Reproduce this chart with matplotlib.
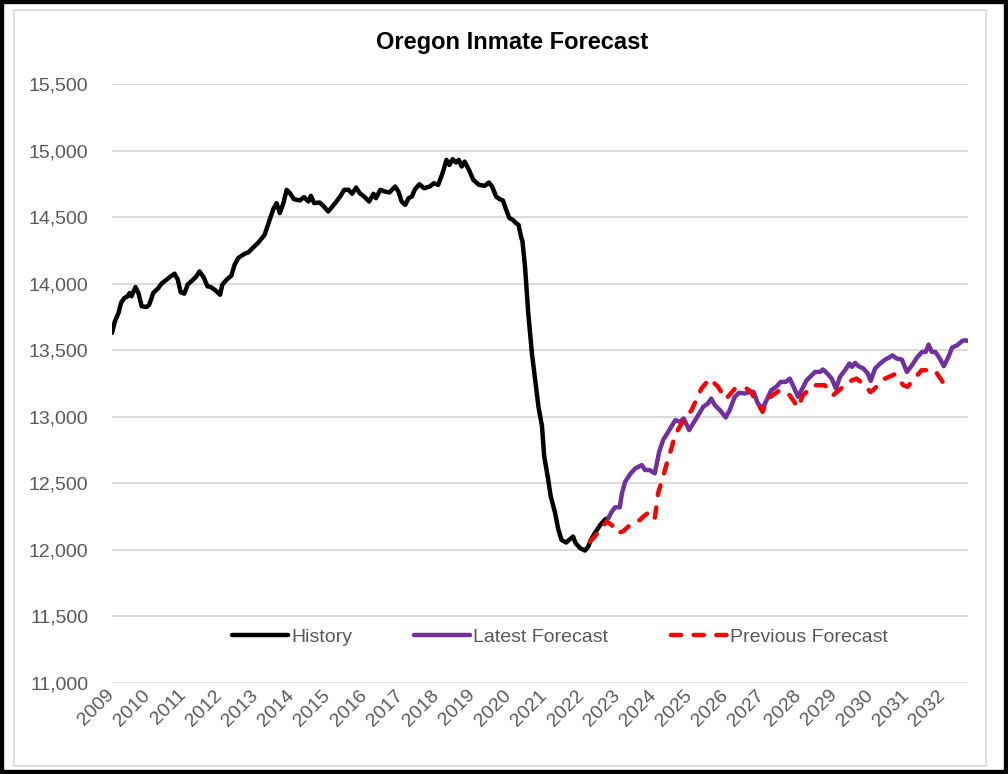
import matplotlib
matplotlib.use('Agg')
import matplotlib.pyplot as plt
import matplotlib.transforms as mtransforms
from matplotlib.patches import Rectangle

plt.rcParams['font.family'] = ['Liberation Sans Narrow', 'Liberation Sans', 'DejaVu Sans']

# History (decimal year, inmates)
hist_t = [2009.00, 2009.08, 2009.18, 2009.25, 2009.34, 2009.43, 2009.49, 2009.54, 2009.65, 2009.73,
          2009.82, 2009.96, 2010.03, 2010.14, 2010.28, 2010.37, 2010.51, 2010.60, 2010.73, 2010.82,
          2010.90, 2011.00, 2011.09, 2011.22, 2011.32, 2011.42, 2011.53, 2011.64, 2011.73, 2011.86,
          2011.99, 2012.05, 2012.17, 2012.30, 2012.39, 2012.49, 2012.58, 2012.67, 2012.77, 2012.86,
          2013.05, 2013.22, 2013.33, 2013.46, 2013.55, 2013.64, 2013.74, 2013.83, 2013.92, 2014.03,
          2014.19, 2014.31, 2014.43, 2014.50, 2014.59, 2014.74, 2014.84, 2014.98, 2015.17, 2015.31,
          2015.42, 2015.54, 2015.64, 2015.75, 2015.85, 2015.99, 2016.11, 2016.23, 2016.30, 2016.42,
          2016.55, 2016.67, 2016.83, 2016.92, 2017.01, 2017.11, 2017.20, 2017.29, 2017.38, 2017.50,
          2017.63, 2017.79, 2017.90, 2018.02, 2018.14, 2018.25, 2018.33, 2018.42, 2018.51, 2018.59,
          2018.67, 2018.75, 2018.87, 2018.99, 2019.15, 2019.31, 2019.42, 2019.51, 2019.62, 2019.72,
          2019.81, 2019.90, 2019.99, 2020.08, 2020.17, 2020.24, 2020.31, 2020.35, 2020.42, 2020.51,
          2020.61, 2020.70, 2020.79, 2020.89, 2020.95, 2021.06, 2021.13, 2021.25, 2021.34, 2021.43,
          2021.56, 2021.66, 2021.75, 2021.82, 2021.95, 2022.08, 2022.17, 2022.24, 2022.35, 2022.50,
          2022.64, 2022.72]
hist_v = [13630, 13717, 13780, 13855, 13892, 13905, 13930, 13905, 13975, 13930,
          13830, 13825, 13842, 13930, 13967, 14000, 14030, 14050, 14075, 14030,
          13935, 13925, 13992, 14025, 14050, 14092, 14050, 13980, 13975, 13950,
          13917, 13992, 14030, 14060, 14142, 14192, 14210, 14225, 14235, 14260,
          14310, 14367, 14455, 14560, 14605, 14530, 14605, 14705, 14680, 14635,
          14625, 14650, 14617, 14660, 14605, 14610, 14585, 14542, 14605, 14655,
          14705, 14705, 14675, 14722, 14680, 14650, 14617, 14675, 14642, 14705,
          14692, 14685, 14730, 14692, 14617, 14592, 14642, 14655, 14710, 14747,
          14717, 14730, 14755, 14742, 14830, 14930, 14892, 14935, 14910, 14930,
          14880, 14917, 14855, 14780, 14742, 14735, 14760, 14730, 14655, 14635,
          14625, 14555, 14492, 14480, 14455, 14442, 14355, 14317, 14130, 13780,
          13480, 13280, 13080, 12930, 12705, 12530, 12405, 12280, 12155, 12075,
          12055, 12080, 12100, 12050, 12012, 11995, 12025, 12075, 12125, 12187,
          12230, 12237]

# Latest forecast
latest_t = [2022.72, 2022.82, 2022.91, 2023.04, 2023.10, 2023.19, 2023.33, 2023.47, 2023.65, 2023.74,
            2023.86, 2024.01, 2024.13, 2024.24, 2024.38, 2024.49, 2024.58, 2024.70, 2024.81, 2024.96,
            2025.07, 2025.21, 2025.35, 2025.48, 2025.57, 2025.67, 2025.81, 2025.97, 2026.08, 2026.22,
            2026.34, 2026.50, 2026.64, 2026.74, 2026.86, 2026.99, 2027.10, 2027.23, 2027.37, 2027.49,
            2027.63, 2027.74, 2027.83, 2027.97, 2028.09, 2028.21, 2028.35, 2028.44, 2028.58, 2028.66,
            2028.78, 2028.90, 2029.02, 2029.13, 2029.27, 2029.39, 2029.46, 2029.55, 2029.64, 2029.78,
            2029.90, 2029.98, 2030.10, 2030.24, 2030.38, 2030.49, 2030.58, 2030.70, 2030.84, 2030.98,
            2031.12, 2031.26, 2031.40, 2031.50, 2031.58, 2031.67, 2031.77, 2031.89, 2032.00, 2032.13,
            2032.23, 2032.37, 2032.51, 2032.60, 2032.68]
latest_v = [12237, 12287, 12320, 12320, 12425, 12512, 12570, 12612, 12637, 12600,
            12600, 12575, 12737, 12825, 12887, 12937, 12975, 12962, 12987, 12900,
            12950, 13012, 13075, 13100, 13137, 13087, 13050, 12995, 13050, 13150,
            13180, 13175, 13187, 13187, 13100, 13062, 13125, 13200, 13225, 13262,
            13262, 13287, 13237, 13150, 13212, 13275, 13312, 13337, 13337, 13355,
            13325, 13287, 13212, 13300, 13350, 13400, 13375, 13405, 13380, 13362,
            13325, 13270, 13362, 13400, 13430, 13445, 13462, 13437, 13430, 13337,
            13387, 13445, 13487, 13487, 13542, 13487, 13487, 13437, 13380, 13450,
            13520, 13537, 13570, 13575, 13570]

# Previous forecast
prev_t = [2022.22, 2022.35, 2022.49, 2022.68, 2022.82, 2022.97, 2023.14, 2023.32, 2023.60, 2023.69,
          2023.87, 2024.01, 2024.10, 2024.24, 2024.38, 2024.47, 2024.57, 2024.70, 2024.84, 2025.03,
          2025.17, 2025.30, 2025.53, 2025.76, 2025.97, 2026.23, 2026.55, 2026.66, 2026.99, 2027.14,
          2027.47, 2027.74, 2027.97, 2028.11, 2028.39, 2028.71, 2028.94, 2029.11, 2029.36, 2029.59,
          2029.87, 2029.97, 2030.05, 2030.32, 2030.65, 2030.88, 2031.00, 2031.11, 2031.39, 2031.75,
          2031.97]
prev_v = [12062, 12100, 12150, 12212, 12187, 12125, 12140, 12187, 12225, 12250,
          12287, 12237, 12425, 12550, 12687, 12762, 12862, 12925, 12987, 13050,
          13137, 13212, 13287, 13225, 13132, 13212, 13212, 13190, 13037, 13137,
          13200, 13162, 13070, 13162, 13237, 13237, 13162, 13200, 13262, 13287,
          13225, 13185, 13200, 13280, 13320, 13237, 13225, 13262, 13350, 13350,
          13262]

years = list(range(2009, 2033))
yticks = list(range(11000, 15501, 500))

W, H = 1008, 774
fig = plt.figure(figsize=(W / 100, H / 100), dpi=100)
ax = fig.add_axes([112 / W, 1 - 683 / H, (968 - 112) / W, (683 - 84) / H])

grey = '#595959'
ax.plot(hist_t, hist_v, color='black', lw=3.2, solid_capstyle='round', solid_joinstyle='round',
        label='History', zorder=3)
ax.plot(latest_t, latest_v, color='#7030A0', lw=3.2, solid_capstyle='round', solid_joinstyle='round',
        label='Latest Forecast', zorder=4)
ax.plot(prev_t, prev_v, color='#FF0000', lw=3.2, dashes=(2.3, 2.8), dash_capstyle='round',
        label='Previous Forecast', zorder=5)

ax.set_xlim(2009.0, 2032.67)
ax.set_ylim(11000, 15500)
ax.set_yticks(yticks)
ax.set_yticklabels([f'{v:,}' for v in yticks])
ax.set_xticks(years)
ax.set_xticklabels([str(y) for y in years], rotation=45, ha='right', va='top',
                   rotation_mode='anchor')
ax.tick_params(axis='y', length=0, pad=17, labelsize=14, labelcolor=grey)
ax.tick_params(axis='x', length=0, pad=4, labelsize=14, labelcolor=grey)
shift = mtransforms.ScaledTranslation(-7 / 100, 2 / 100, fig.dpi_scale_trans)
for lab in ax.get_xticklabels():
    lab.set_transform(lab.get_transform() + shift)
ax.grid(axis='y', color='#D9D9D9', lw=1.4)
ax.set_axisbelow(True)
for s in ax.spines.values():
    s.set_visible(False)

leg = ax.legend(loc='center', bbox_to_anchor=(0.523, 0.077), ncol=3, frameon=False,
                fontsize=14, handlelength=2.9, handletextpad=0.15, columnspacing=3.2)
for t in leg.get_texts():
    t.set_color(grey)

fig.text(512 / W, 1 - 42 / H, 'Oregon Inmate Forecast', ha='center', va='center',
         fontsize=17, fontweight='bold', color='black')

# chart frame
fig.patches.append(Rectangle((14 / W, 1 - 766 / H), (986 - 14) / W, (766 - 10) / H,
                             transform=fig.transFigure, fill=False, ec='#D9D9D9', lw=1.2))
fig.patches.append(Rectangle((0, 0), 1, 1, transform=fig.transFigure, fill=False,
                             ec='black', lw=6))

fig.savefig('out.png', dpi=100)
